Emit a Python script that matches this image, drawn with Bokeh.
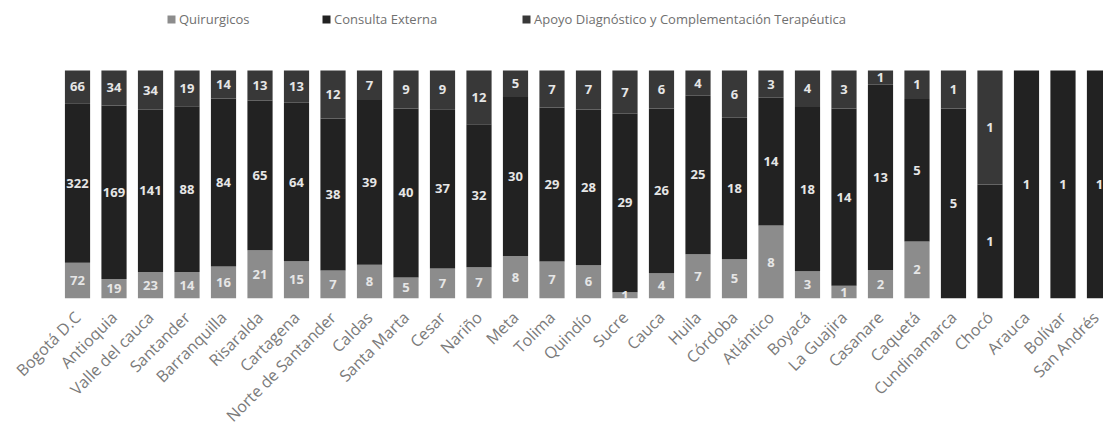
import numpy as np
from bokeh.plotting import figure
from bokeh.models import ColumnDataSource, Range1d, FixedTicker, Legend, LegendItem
from bokeh.core.properties import value
from bokeh.embed import file_html
from bokeh.resources import INLINE

categories = ["Bogotá D.C", "Antioquia", "Valle del cauca", "Santander", "Barranquilla",
              "Risaralda", "Cartagena", "Norte de Santander", "Caldas", "Santa Marta",
              "Cesar", "Nariño", "Meta", "Tolima", "Quindío", "Sucre", "Cauca", "Huila",
              "Córdoba", "Atlántico", "Boyacá", "La Guajira", "Casanare", "Caquetá",
              "Cundinamarca", "Chocó", "Arauca", "Bolívar", "San Andrés"]
quirurgicos = [72, 19, 23, 14, 16, 21, 15, 7, 8, 5, 7, 7, 8, 7, 6, 1, 4, 7, 5, 8, 3, 1, 2, 2, 0, 0, 0, 0, 0]
consulta_externa = [322, 169, 141, 88, 84, 65, 64, 38, 39, 40, 37, 32, 30, 29, 28, 29, 26, 25, 18, 14, 18, 14, 13, 5, 5, 1, 1, 1, 1]
apoyo_diagnostico = [66, 34, 34, 19, 14, 13, 13, 12, 7, 9, 9, 12, 5, 7, 7, 7, 6, 4, 6, 3, 4, 3, 1, 1, 1, 1, 0, 0, 0]
series_names = ["Quirurgicos", "Consulta Externa", "Apoyo Diagnóstico y Complementación Terapéutica"]
colors = ["#8c8c8c", "#222222", "#383838"]

q = np.array(quirurgicos, float)
ce = np.array(consulta_externa, float)
ad = np.array(apoyo_diagnostico, float)
tot = q + ce + ad
x = np.arange(len(categories))

src = ColumnDataSource(dict(x=x, q=q / tot, ce=ce / tot, ad=ad / tot))

p = figure(width=1103, height=437, output_backend="svg", toolbar_location=None,
           x_range=Range1d(-2.11, 28.11), y_range=Range1d(0, 1.307),
           min_border_left=0, min_border_right=0, min_border_top=0, min_border_bottom=139)
p.background_fill_color = "white"
p.border_fill_color = "white"
p.outline_line_color = None
p.grid.visible = False
p.yaxis.visible = False

rs = p.vbar_stack(["q", "ce", "ad"], x="x", width=0.69, color=colors, line_color=None, source=src)

# value labels at segment centres
lx, ly, lt = [], [], []
for vals, base in ((q, np.zeros_like(q)), (ce, q), (ad, q + ce)):
    for i in range(len(categories)):
        if vals[i] > 0:
            lx.append(x[i])
            ly.append((base[i] + vals[i] / 2) / tot[i])
            lt.append(str(int(vals[i])))
p.text(x=lx, y=ly, text=lt, text_align="center", text_baseline="middle",
       text_font=value("Open Sans"), text_font_size="13px", text_font_style="bold",
       text_color="#e6e6e6")

ax = p.xaxis[0]
ax.ticker = FixedTicker(ticks=list(range(len(categories))))
ax.major_label_overrides = {int(i): c for i, c in enumerate(categories)}
ax.major_label_orientation = np.pi / 4
ax.major_label_text_font = "Open Sans"
ax.major_label_text_font_size = "16px"
ax.major_label_text_color = "#7a7a7a"
ax.axis_line_color = None
ax.major_tick_line_color = None
ax.minor_tick_line_color = None
ax.major_label_standoff = 10

legend_x = [166, 321, 521]
for name, r, lxp in zip(series_names, rs, legend_x):
    lg = Legend(items=[LegendItem(label=name, renderers=[r])], location=(lxp, 270),
                orientation="horizontal", padding=0, margin=0, spacing=0,
                glyph_width=10, glyph_height=10, label_standoff=3, label_height=14,
                label_text_font="Open Sans", label_text_font_size="13px",
                label_text_color="#707070", background_fill_alpha=0,
                border_line_color=None)
    p.add_layout(lg, "center")

open("out.html", "w").write(file_html(p, INLINE))
